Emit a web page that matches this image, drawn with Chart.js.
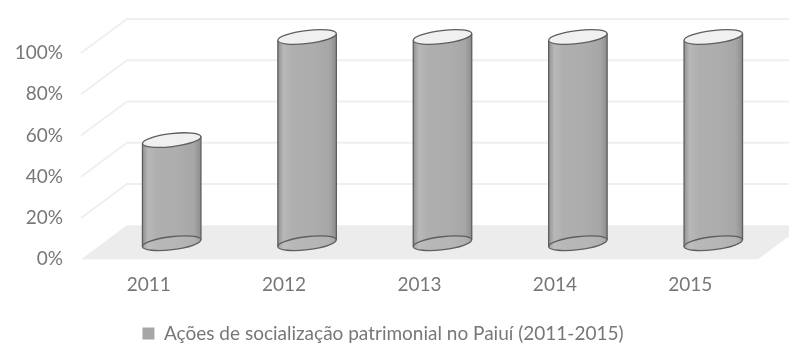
<!DOCTYPE html>
<html>
<head>
<meta charset="utf-8">
<script src="https://cdn.jsdelivr.net/npm/chart.js@4.4.1/dist/chart.umd.min.js"></script>
<style>
  html, body { margin: 0; padding: 0; background: #fff; }
</style>
</head>
<body>
<canvas id="grafico" width="789" height="353"></canvas>
<script>
const anos = ['2011', '2012', '2013', '2014', '2015'];
const valores = [50, 100, 100, 100, 100];
const ticksY = [0, 20, 40, 60, 80, 100];
const nomeSerie = 'Ações de socialização patrimonial no Paiuí (2011-2015)';

const COR_TEXTO = '#777777';
const FONTE = 'Lato, "Open Sans", sans-serif';

// desplazamientos de la perspectiva (pared del fondo y plano de los cilindros)
const FONDO = { dx: 46, dy: -34 };
const MEDIO = { dx: 23, dy: -16 };

const cilindros = {
  id: 'cilindros',
  beforeDatasetsDraw(chart) {
    const ctx = chart.ctx;
    const y = chart.scales.y;
    const area = chart.chartArea;
    const y0 = y.getPixelForValue(0);

    ctx.save();
    // piso
    ctx.fillStyle = '#ececec';
    ctx.beginPath();
    ctx.moveTo(area.left, y0);
    ctx.lineTo(area.left + FONDO.dx, y0 + FONDO.dy);
    ctx.lineTo(area.right + FONDO.dx, y0 + FONDO.dy);
    ctx.lineTo(area.right, y0);
    ctx.closePath();
    ctx.fill();

    // lineas de la grilla
    ctx.strokeStyle = '#efefef';
    ctx.lineWidth = 2;
    ticksY.forEach((t) => {
      if (t === 0) return;
      const yp = y.getPixelForValue(t);
      ctx.beginPath();
      ctx.moveTo(area.left, yp);
      ctx.lineTo(area.left + FONDO.dx, yp + FONDO.dy);
      ctx.lineTo(chart.width, yp + FONDO.dy);
      ctx.stroke();
    });

    // cilindros
    const meta = chart.getDatasetMeta(0);
    const rot = -0.12;
    const ry = 6.5;
    meta.data.forEach((barra, i) => {
      const rx = barra.width / 2;
      const cx = barra.x + MEDIO.dx;
      const yTop = y.getPixelForValue(valores[i]) + MEDIO.dy;
      const yBot = y0 + MEDIO.dy;
      const ox = rx * Math.cos(rot);
      const oy = rx * Math.sin(rot);

      const grad = ctx.createLinearGradient(cx - rx, 0, cx + rx, 0);
      grad.addColorStop(0, '#909090');
      grad.addColorStop(0.1, '#b8b8b8');
      grad.addColorStop(0.25, '#afafaf');
      grad.addColorStop(0.6, '#adadad');
      grad.addColorStop(0.88, '#a6a6a6');
      grad.addColorStop(1, '#8c8c8c');

      // cuerpo
      ctx.beginPath();
      ctx.moveTo(cx - ox, yTop - oy);
      ctx.lineTo(cx - ox, yBot - oy);
      ctx.ellipse(cx, yBot, rx, ry, rot, Math.PI, 0, true);
      ctx.lineTo(cx + ox, yTop + oy);
      ctx.ellipse(cx, yTop, rx, ry, rot, 0, Math.PI, false);
      ctx.closePath();
      ctx.fillStyle = grad;
      ctx.fill();

      // base (se ve a traves del cuerpo)
      ctx.beginPath();
      ctx.ellipse(cx, yBot, rx, ry, rot, 0, Math.PI * 2);
      ctx.fillStyle = 'rgba(200,200,200,0.35)';
      ctx.fill();
      ctx.strokeStyle = '#5e5e5e';
      ctx.lineWidth = 1.3;
      ctx.stroke();

      // lados
      ctx.beginPath();
      ctx.moveTo(cx - ox, yTop - oy);
      ctx.lineTo(cx - ox, yBot - oy);
      ctx.moveTo(cx + ox, yTop + oy);
      ctx.lineTo(cx + ox, yBot + oy);
      ctx.stroke();

      // tapa
      ctx.beginPath();
      ctx.ellipse(cx, yTop, rx, ry, rot, 0, Math.PI * 2);
      ctx.fillStyle = '#f0f0f0';
      ctx.fill();
      ctx.stroke();
    });
    ctx.restore();
    return false;
  }
};

new Chart(document.getElementById('grafico'), {
  type: 'bar',
  data: {
    labels: anos,
    datasets: [{
      label: nomeSerie,
      data: valores,
      backgroundColor: '#a6a6a6',
      borderWidth: 0,
      categoryPercentage: 1,
      barPercentage: 0.435
    }]
  },
  options: {
    responsive: false,
    animation: false,
    devicePixelRatio: 1,
    layout: { padding: { left: 8, right: 31, top: 53, bottom: 0 } },
    scales: {
      x: {
        grid: { display: false, drawTicks: false },
        border: { display: false },
        ticks: { color: COR_TEXTO, font: { family: FONTE, size: 19 }, padding: 14 }
      },
      y: {
        min: 0,
        max: 100,
        afterFit: (s) => { s.width = 73; },
        grid: { display: false, drawTicks: false },
        border: { display: false },
        ticks: {
          stepSize: 20,
          color: COR_TEXTO,
          font: { family: FONTE, size: 19 },
          padding: 18,
          callback: (v) => v + '%'
        }
      }
    },
    plugins: {
      legend: {
        position: 'bottom',
        labels: {
          color: COR_TEXTO,
          font: { family: FONTE, size: 19 },
          boxWidth: 12,
          boxHeight: 12,
          padding: 14
        }
      },
      tooltip: { enabled: false }
    }
  },
  plugins: [cilindros]
});
</script>
</body>
</html>
